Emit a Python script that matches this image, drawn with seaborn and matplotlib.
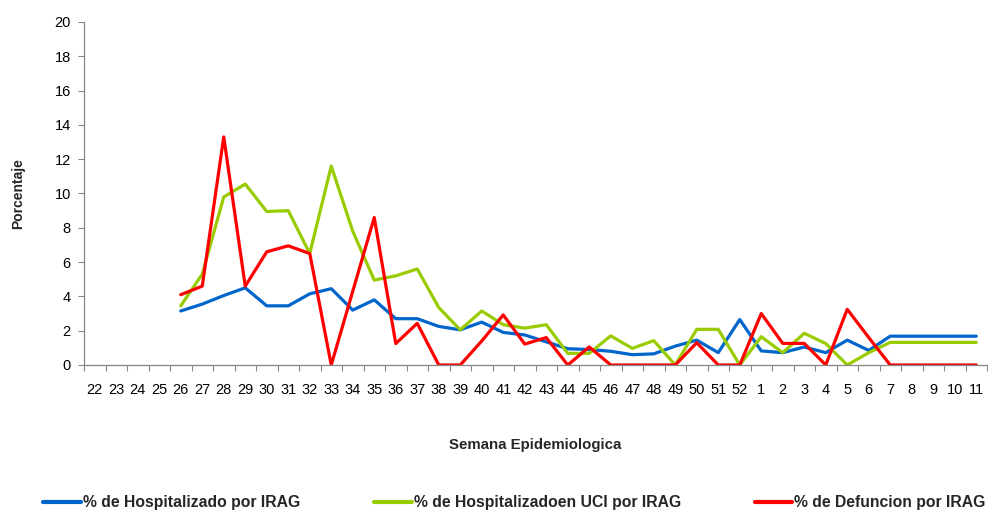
import numpy as np
import pandas as pd
import matplotlib
matplotlib.use("Agg")
import matplotlib.pyplot as plt
from matplotlib import font_manager
import seaborn as sns
from matplotlib.ticker import FixedLocator, MultipleLocator

# Epidemiological weeks shown on the category axis
weeks = [22, 23, 24, 25, 26, 27, 28, 29, 30, 31, 32, 33, 34, 35, 36, 37, 38, 39,
         40, 41, 42, 43, 44, 45, 46, 47, 48, 49, 50, 51, 52,
         1, 2, 3, 4, 5, 6, 7, 8, 9, 10, 11]

nan = np.nan
# % of SARI (IRAG) hospitalisations
hospitalizado = [nan, nan, nan, nan, 3.15, 3.55, 4.05, 4.5, 3.45, 3.45, 4.15, 4.45,
                 3.2, 3.8, 2.7, 2.7, 2.25, 2.05, 2.5, 1.9, 1.75, 1.35, 0.95, 0.9,
                 0.8, 0.6, 0.65, 1.1, 1.45, 0.72, 2.65,
                 0.82, 0.72, 1.05, 0.72, 1.45, 0.85, 1.68, 1.68, 1.68, 1.68, 1.68]
# % of SARI hospitalisations in ICU
uci = [nan, nan, nan, nan, 3.45, 5.3, 9.8, 10.55, 8.95, 9.0, 6.5, 11.6,
       7.8, 4.95, 5.2, 5.6, 3.35, 2.05, 3.15, 2.35, 2.15, 2.35, 0.68, 0.68,
       1.7, 0.97, 1.42, 0.0, 2.08, 2.08, 0.0,
       1.65, 0.72, 1.85, 1.25, 0.0, 0.72, 1.32, 1.32, 1.32, 1.32, 1.32]
# % of SARI deaths
defuncion = [nan, nan, nan, nan, 4.1, 4.6, 13.3, 4.6, 6.6, 6.95, 6.5, 0.0,
             4.3, 8.6, 1.25, 2.43, 0.0, 0.0, 1.4, 2.92, 1.22, 1.6, 0.0, 1.05,
             0.0, 0.0, 0.0, 0.0, 1.3, 0.0, 0.0,
             3.0, 1.26, 1.26, 0.0, 3.25, 1.6, 0.0, 0.0, 0.0, 0.0, 0.0]

series_names = ["% de Hospitalizado por IRAG",
                "% de Hospitalizadoen UCI por IRAG",
                "% de Defuncion por IRAG"]
colors = ["#0066CC", "#99CC00", "#FF0000"]

pos = np.arange(len(weeks))
df = pd.concat([
    pd.DataFrame({"pos": pos, "valor": vals, "serie": name})
    for name, vals in zip(series_names, [hospitalizado, uci, defuncion])
], ignore_index=True)

sns.set_theme(style="white")
plt.rcParams["font.family"] = ["Liberation Sans", "DejaVu Sans"]

fig = plt.figure(figsize=(9.88, 5.13), dpi=100)
ax = fig.add_axes([84 / 988, 1 - 365 / 513, 903 / 988, 343 / 513])

sns.lineplot(data=df, x="pos", y="valor", hue="serie", hue_order=series_names,
             palette=colors, linewidth=2.3, ax=ax, legend=False,
             estimator=None, sort=False)

ax.set_xlim(-0.5, len(weeks) - 0.5)
ax.set_ylim(0, 20)
ax.yaxis.set_major_locator(MultipleLocator(2))

ax.set_xticks(pos)
ax.set_xticklabels([str(w) for w in weeks])
ax.xaxis.set_minor_locator(FixedLocator(np.arange(-0.5, len(weeks), 1.0)))
ax.tick_params(axis="x", which="major", length=0, pad=13, labelsize=10.5,
               colors="#000000")
ax.tick_params(axis="x", which="minor", length=4.5, width=0.8,
               color="#868686", bottom=True)
ax.tick_params(axis="y", which="major", length=4.5, width=0.8,
               color="#868686", pad=5, labelsize=10.5, left=True)
for lab in ax.get_yticklabels():
    lab.set_color("#000000")

for side in ["top", "right"]:
    ax.spines[side].set_visible(False)
for side in ["left", "bottom"]:
    ax.spines[side].set_color("#868686")
    ax.spines[side].set_linewidth(0.9)

ax.set_xlabel("Semana Epidemiologica", fontsize=10.8, fontweight="bold")
ax.xaxis.set_label_coords(0.5, -0.212)
ax.set_ylabel("Porcentaje", fontsize=10, fontweight="bold")
ax.yaxis.set_label_coords(-0.073, 0.5)
ax.yaxis.label.set_va("center")

handles = [plt.Line2D([0], [0], color=c, linewidth=3) for c in colors]
fig.legend(handles, series_names, loc="center", ncol=3,
           bbox_to_anchor=(514.5 / 988, 1 - 503 / 513), frameon=False,
           handlelength=2.4, handletextpad=0.13, columnspacing=4.7,
           prop={"family": "Liberation Sans", "weight": "bold", "size": 11.3})

fig.savefig("out.png", dpi=100)
